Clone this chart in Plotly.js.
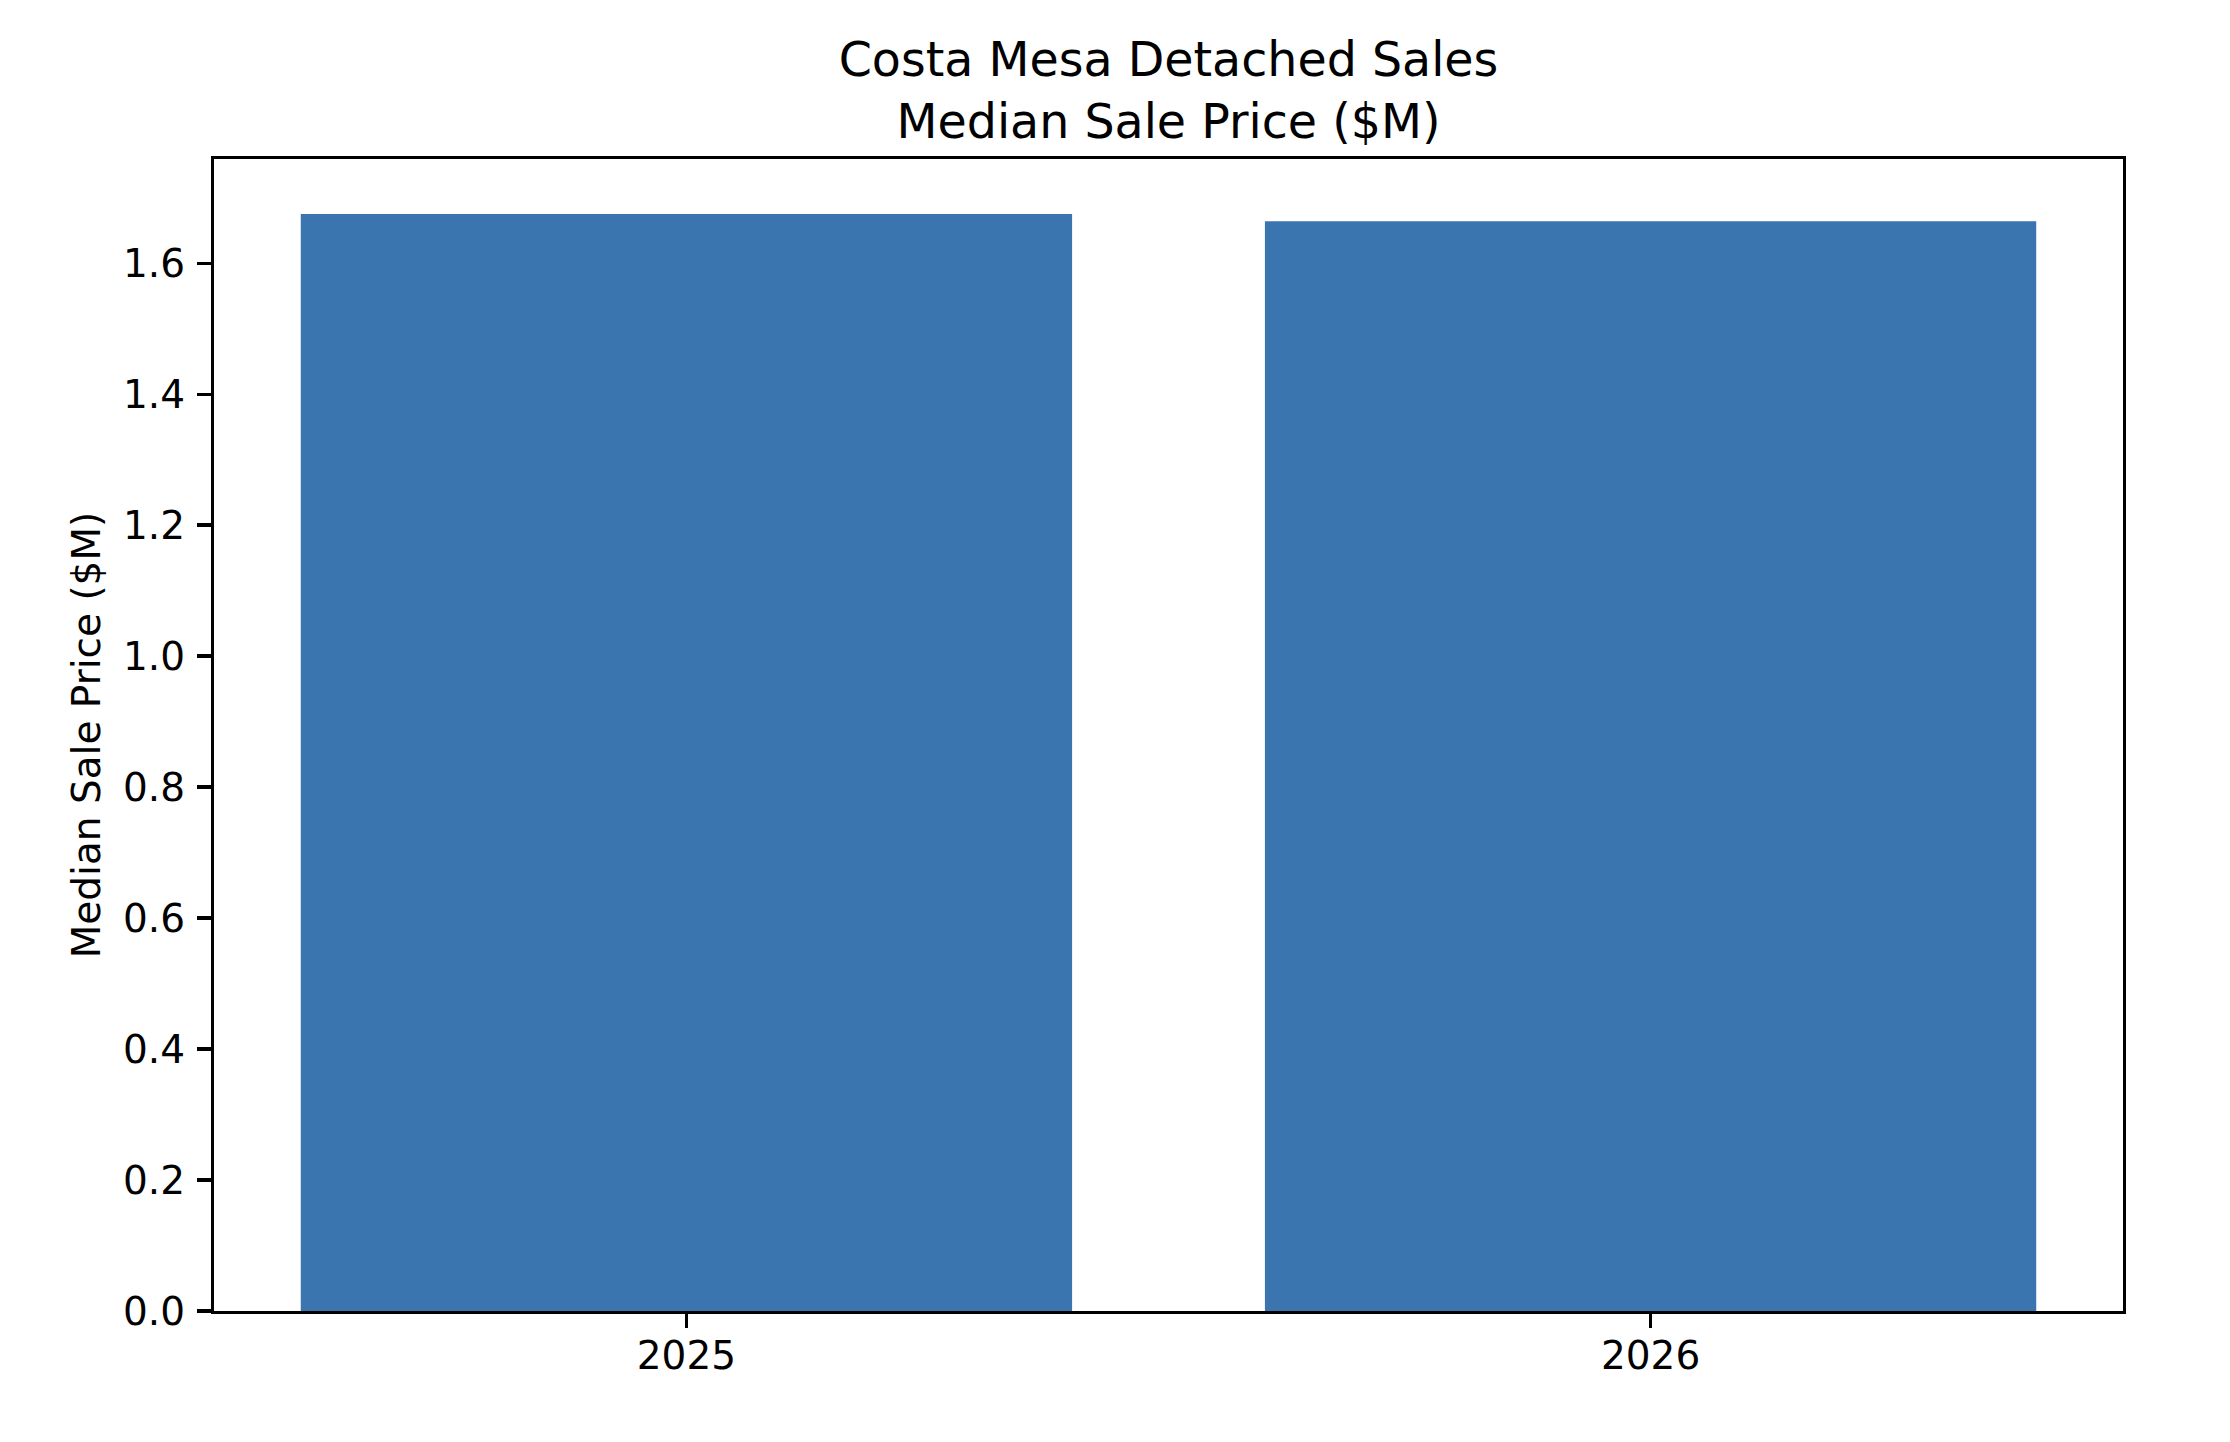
<!DOCTYPE html>
<html>
<head>
<meta charset="utf-8">
<script src="https://cdn.plot.ly/plotly-3.0.1.min.js"></script>
<style>html,body{margin:0;padding:0;background:#fff;}#chart{width:2230px;height:1442px;}</style>
</head>
<body>
<div id="chart"></div>
<script>
const years = ['2025', '2026'];
const medianPrice = [1.675, 1.664];
const titleText = 'Costa Mesa Detached Sales<br>Median Sale Price ($M)';
const yTitle = 'Median Sale Price ($M)';

const FONT = 'DejaVu Sans, Liberation Sans, sans-serif';
const trace = {
  type: 'bar',
  x: years,
  y: medianPrice,
  width: 0.8,
  marker: {color: '#3b75af', line: {width: 0}},
  hoverinfo: 'x+y'
};
const axisCommon = {
  showline: true, mirror: true, linecolor: '#000', linewidth: 3.2,
  ticks: 'outside', ticklen: 14, tickwidth: 3.2, tickcolor: '#000',
  showgrid: false, zeroline: false,
  tickfont: {family: FONT, size: 39, color: '#000'}
};
const layout = {
  width: 2230, height: 1442,
  margin: {l: 214, r: 107, t: 159, b: 131, pad: 0},
  paper_bgcolor: '#fff', plot_bgcolor: '#fff',
  font: {family: FONT, color: '#000'},
  showlegend: false,
  title: {
    text: titleText,
    font: {family: FONT, size: 47.5, color: '#000'},
    x: 0.5, xanchor: 'center', xref: 'paper',
    y: 0.947, yref: 'container', yanchor: 'top'
  },
  xaxis: Object.assign({}, axisCommon, {
    type: 'category',
    range: [-0.49, 1.49],
    ticklabelstandoff: -6
  }),
  yaxis: Object.assign({}, axisCommon, {
    range: [0, 1.759],
    dtick: 0.2, tick0: 0,
    tickformat: '.1f',
    ticklabelstandoff: 4,
    title: {text: yTitle, font: {family: FONT, size: 39, color: '#000'}, standoff: 11}
  })
};
Plotly.newPlot('chart', [trace], layout, {displayModeBar: false, staticPlot: true});
</script>
</body>
</html>
